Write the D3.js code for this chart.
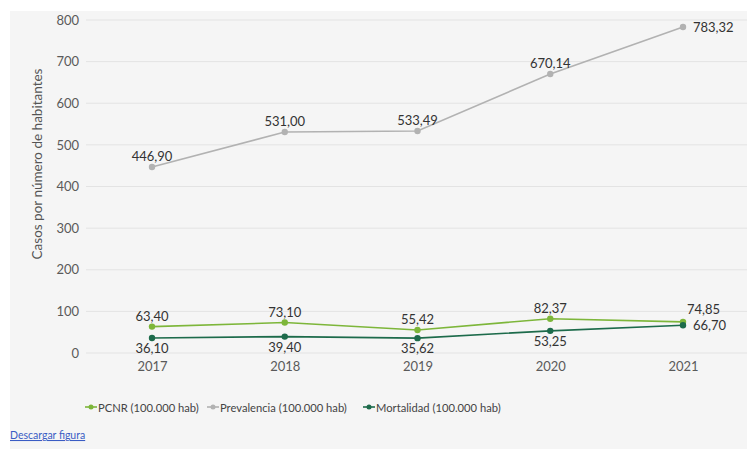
<!DOCTYPE html>
<html>
<head>
<meta charset="utf-8">
<script src="https://cdn.jsdelivr.net/npm/d3@7"></script>
<style>
  html, body { margin: 0; padding: 0; background: #ffffff; }
  svg { display: block; font-family: Lato, "Open Sans", sans-serif; }
</style>
</head>
<body>
<svg id="chart" width="747" height="449"></svg>
<script>
// Years on the horizontal axis
const years = ["2017", "2018", "2019", "2020", "2021"];
// Series values (cases per 100.000 inhabitants)
const pcnr = [63.40, 73.10, 55.42, 82.37, 74.85];
const prevalencia = [446.90, 531.00, 533.49, 670.14, 783.32];
const mortalidad = [36.10, 39.40, 35.62, 53.25, 66.70];
// Y axis ticks
const yTicks = [0, 100, 200, 300, 400, 500, 600, 700, 800];

const seriesNames = ["PCNR (100.000 hab)", "Prevalencia (100.000 hab)", "Mortalidad (100.000 hab)"];
const colors = ["#7db63a", "#b2b2b2", "#1d6b4b"];

const svg = d3.select("#chart");
const W = 747, H = 449;

// Panel background
svg.append("rect").attr("x", 10).attr("y", 11).attr("width", W - 10).attr("height", H - 11)
  .attr("fill", "#f5f5f5");

const x = d3.scalePoint().domain(years).range([152, 683]);
const y = d3.scaleLinear().domain([0, 800]).range([353, 20]);

// Horizontal grid lines
svg.append("g").selectAll("line").data(yTicks).join("line")
  .attr("x1", 86).attr("x2", W)
  .attr("y1", d => y(d)).attr("y2", d => y(d))
  .attr("stroke", "#e3e3e3").attr("stroke-width", 1);

// Y axis labels
const yAxis = d3.axisLeft(y).tickValues(yTicks).tickSize(0).tickPadding(0).tickFormat(d3.format("d"));
const gy = svg.append("g").attr("transform", "translate(79,0)").call(yAxis);
gy.select(".domain").remove();
gy.selectAll("text").attr("fill", "#5a5a5a").attr("font-size", 13).attr("font-family", "Lato, sans-serif");

// X axis labels
const xAxis = d3.axisBottom(x).tickSize(0).tickPadding(0);
const gx = svg.append("g").attr("transform", "translate(0,362)").call(xAxis);
gx.select(".domain").remove();
gx.selectAll("text").attr("fill", "#5a5a5a").attr("font-size", 13).attr("font-family", "Lato, sans-serif");

// Y axis title
svg.append("text")
  .attr("transform", "translate(42,164) rotate(-90)")
  .attr("text-anchor", "middle")
  .attr("fill", "#555").attr("font-size", 13.5)
  .text("Casos por número de habitantes");

const fmt = v => d3.format(".2f")(v).replace(".", ",");

const line = d3.line().x(d => x(d.year)).y(d => y(d.value));

const seriesData = [pcnr, prevalencia, mortalidad].map((vals, i) =>
  ({ name: seriesNames[i], color: colors[i], values: vals.map((v, j) => ({ year: years[j], value: v })) }));

// Lines and points
seriesData.forEach(s => {
  svg.append("path").datum(s.values).attr("d", line)
    .attr("fill", "none").attr("stroke", s.color).attr("stroke-width", 1.6);
  svg.append("g").selectAll("circle").data(s.values).join("circle")
    .attr("cx", d => x(d.year)).attr("cy", d => y(d.value)).attr("r", 3.2)
    .attr("fill", s.color);
});

// Value labels: placement per series (above / below / right for the last year)
function label(s, i, d) {
  const px = x(d.year), py = y(d.value);
  const last = d.year === "2021";
  let tx = px, ty = py, anchor = "middle";
  if (i === 0) { // PCNR above
    ty = py - 6;
    if (last) { tx = px + 4; anchor = "start"; ty = py - 8; }
  } else if (i === 1) { // Prevalencia above
    ty = py - 6;
    if (last) { tx = px + 10; anchor = "start"; ty = py + 5; }
  } else { // Mortalidad below
    ty = py + 15;
    if (last) { tx = px + 10; anchor = "start"; ty = py + 5; }
  }
  svg.append("text").attr("x", tx).attr("y", ty).attr("text-anchor", anchor)
    .attr("fill", "#333").attr("font-size", 13).text(fmt(d.value));
}
seriesData.forEach((s, i) => s.values.forEach(d => label(s, i, d)));

// Legend
const legendX = [85, 207, 363];
seriesData.forEach((s, i) => {
  const g = svg.append("g").attr("transform", `translate(${legendX[i]},407)`);
  g.append("line").attr("x1", 0).attr("x2", 12).attr("y1", 0).attr("y2", 0)
    .attr("stroke", s.color).attr("stroke-width", 1.6);
  g.append("circle").attr("cx", 6).attr("cy", 0).attr("r", 2.5).attr("fill", s.color);
  g.append("text").attr("x", 13).attr("y", 4.5).attr("fill", "#444").attr("font-size", 11.2)
    .text(s.name);
});

// Download link
svg.append("text").attr("x", 10).attr("y", 439).attr("fill", "#3a5cc4")
  .attr("font-size", 10.5).attr("text-decoration", "underline")
  .text("Descargar figura");
</script>
</body>
</html>
